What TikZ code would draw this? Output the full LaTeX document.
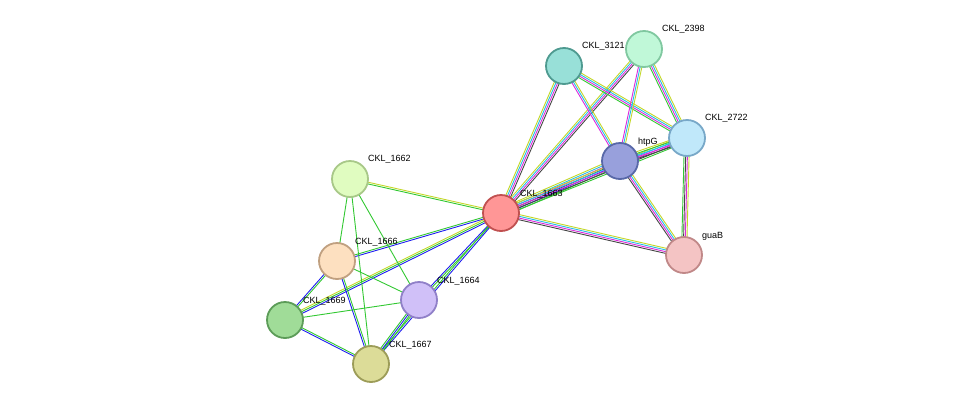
\documentclass[tikz,border=0pt]{standalone}
\usepackage{fontspec}
\setmainfont{Liberation Sans}
\usetikzlibrary{calc,backgrounds}
\definecolor{egr}{RGB}{50,200,50}
\definecolor{ebl}{RGB}{30,30,240}
\definecolor{ebk}{RGB}{70,70,70}
\definecolor{emg}{RGB}{220,40,220}
\definecolor{ecy}{RGB}{40,190,230}
\definecolor{eyl}{RGB}{195,215,40}
\newcommand{\strEdge}[3]{%
  \foreach \col [count=\i] in {#3} {\xdef\nEd{\i}}%
  \foreach \col [count=\i] in {#3} {%
    \pgfmathsetmacro{\off}{(\i-(\nEd+1)/2)*1.7}%
    \draw[draw=\col,line width=0.9pt] ($(#1.center)!\off pt!90:(#2.center)$) -- ($(#2.center)!\off pt!-90:(#1.center)$);
  }}
\begin{document}
\begin{tikzpicture}[x=1pt,y=-1pt,
  prot/.style={circle,minimum size=36pt,inner sep=0pt,line width=1.8pt},
  lab/.style={anchor=base west,font=\fontsize{9}{10}\selectfont,inner sep=0pt}]
\useasboundingbox (0,0) rectangle (976,410);
\node[prot,fill={rgb,255:red,255;green,150;blue,150},draw={rgb,255:red,192;green,80;blue,80}] (a) at (501,213) {};
\node[prot,fill={rgb,255:red,152;green,224;blue,216},draw={rgb,255:red,78;green,154;blue,144}] (b) at (564,66) {};
\node[prot,fill={rgb,255:red,192;green,248;blue,216},draw={rgb,255:red,128;green,200;blue,160}] (c) at (644,49) {};
\node[prot,fill={rgb,255:red,192;green,232;blue,250},draw={rgb,255:red,120;green,168;blue,200}] (d) at (687,138) {};
\node[prot,fill={rgb,255:red,152;green,160;blue,220},draw={rgb,255:red,88;green,104;blue,168}] (h) at (620,161) {};
\node[prot,fill={rgb,255:red,244;green,196;blue,196},draw={rgb,255:red,192;green,136;blue,136}] (g) at (684,255) {};
\node[prot,fill={rgb,255:red,224;green,252;blue,192},draw={rgb,255:red,168;green,200;blue,136}] (p2) at (350,179) {};
\node[prot,fill={rgb,255:red,253;green,224;blue,192},draw={rgb,255:red,192;green,160;blue,128}] (p6) at (337,261) {};
\node[prot,fill={rgb,255:red,208;green,192;blue,248},draw={rgb,255:red,144;green,128;blue,200}] (p4) at (419,300) {};
\node[prot,fill={rgb,255:red,160;green,220;blue,152},draw={rgb,255:red,92;green,156;blue,88}] (p9) at (285,320) {};
\node[prot,fill={rgb,255:red,220;green,220;blue,152},draw={rgb,255:red,156;green,156;blue,88}] (p7) at (371,364) {};
\begin{scope}[on background layer]
\strEdge{a}{b}{ebk,emg,ecy,eyl}
\strEdge{a}{c}{ebk,emg,ecy,eyl}
\strEdge{a}{h}{egr,ebl,ebk,emg,ecy,eyl}
\strEdge{a}{d}{egr,ebk,emg,ecy,eyl}
\strEdge{a}{g}{ebk,emg,ecy,eyl}
\strEdge{b}{h}{emg,ecy,eyl}
\strEdge{b}{d}{egr,emg,ecy,eyl}
\strEdge{c}{h}{emg,ecy,eyl}
\strEdge{c}{d}{egr,emg,ecy,eyl}
\strEdge{h}{d}{ebk,emg,ecy,egr,eyl}
\strEdge{h}{g}{ebk,emg,ecy,eyl}
\strEdge{d}{g}{egr,ebk,emg,eyl}
\strEdge{p2}{a}{egr,eyl}
\strEdge{p6}{a}{ebl,egr}
\strEdge{p9}{a}{ebl,egr,eyl}
\strEdge{p4}{a}{egr,ebl}
\strEdge{p7}{a}{ebl,egr}
\strEdge{p4}{p7}{egr,ebl,egr}
\strEdge{p2}{p6}{egr}
\strEdge{p2}{p7}{egr}
\strEdge{p2}{p4}{egr}
\strEdge{p6}{p4}{egr}
\strEdge{p6}{p9}{ebl,egr}
\strEdge{p6}{p7}{ebl,egr}
\strEdge{p9}{p4}{egr}
\strEdge{p9}{p7}{ebl,egr}
\end{scope}
\node[lab] (la) at (520,196) {CKL\_1663};
\node[lab] (lb) at (582,48) {CKL\_3121};
\node[lab] (lc) at (662,31) {CKL\_2398};
\node[lab] (ld) at (705,120) {CKL\_2722};
\node[lab] (lh) at (638,144) {htpG};
\node[lab] (lg) at (702,238) {guaB};
\node[lab] (l2) at (368,161) {CKL\_1662};
\node[lab] (l6) at (355,244) {CKL\_1666};
\node[lab] (l4) at (437,283) {CKL\_1664};
\node[lab] (l9) at (303,303) {CKL\_1669};
\node[lab] (l7) at (389,347) {CKL\_1667};
\end{tikzpicture}
\end{document}
